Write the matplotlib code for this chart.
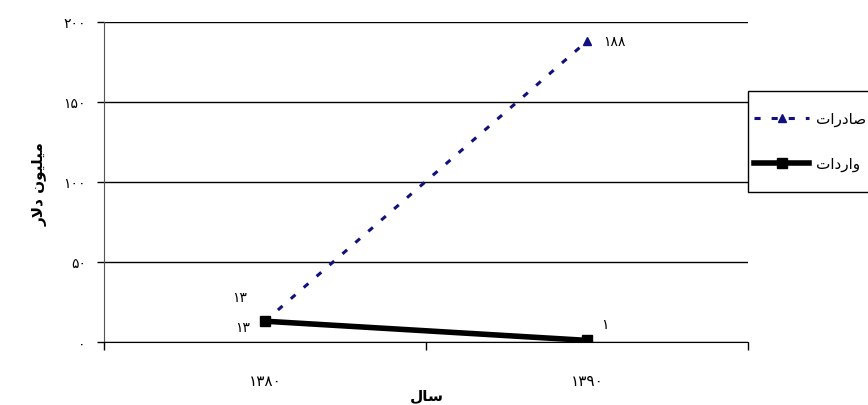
import matplotlib
matplotlib.use("Agg")
import matplotlib.pyplot as plt
from matplotlib.patches import Rectangle

# chart data
years = ["۱۳۸۰", "۱۳۹۰"]
exports = [13, 188]
imports = [13, 1]
export_labels = ["۱۳", "۱۸۸"]
import_labels = ["۱۳", "۱"]
y_ticks = [0, 50, 100, 150, 200]
y_tick_labels = ["۰", "۵۰", "۱۰۰", "۱۵۰", "۲۰۰"]
series_names = ["صادرات", "واردات"]
x_title = "سال"
y_title = "میلیون دلار"

# matplotlib has no arabic shaping, so map letters to presentation forms
# (isolated, final, initial, medial); None = does not join to the next letter
FORMS = {
    "ا": ("\uFE8D", "\uFE8E", None, None),
    "د": ("\uFEA9", "\uFEAA", None, None),
    "ر": ("\uFEAD", "\uFEAE", None, None),
    "و": ("\uFEED", "\uFEEE", None, None),
    "ل": ("\uFEDD", "\uFEDE", "\uFEDF", "\uFEE0"),
    "م": ("\uFEE1", "\uFEE2", "\uFEE3", "\uFEE4"),
    "ن": ("\uFEE5", "\uFEE6", "\uFEE7", "\uFEE8"),
    "س": ("\uFEB1", "\uFEB2", "\uFEB3", "\uFEB4"),
    "ص": ("\uFEB9", "\uFEBA", "\uFEBB", "\uFEBC"),
    "ت": ("\uFE95", "\uFE96", "\uFE97", "\uFE98"),
    "ی": ("\uFBFC", "\uFBFD", "\uFBFE", "\uFBFF"),
}


def shape(text):
    out = []
    i = 0
    while i < len(text):
        ch = text[i]
        if ch not in FORMS:
            out.append(ch)
            i += 1
            continue
        prev = text[i - 1] if i > 0 else ""
        joins_prev = prev in FORMS and FORMS[prev][2] is not None
        if ch == "ل" and i + 1 < len(text) and text[i + 1] == "ا":
            out.append("\uFEFC" if joins_prev else "\uFEFB")
            i += 2
            continue
        nxt = text[i + 1] if i + 1 < len(text) else ""
        joins_next = FORMS[ch][2] is not None and nxt in FORMS
        iso, fin, ini, med = FORMS[ch]
        if joins_prev and joins_next:
            out.append(med)
        elif joins_prev:
            out.append(fin)
        elif joins_next:
            out.append(ini)
        else:
            out.append(iso)
        i += 1
    return "".join(reversed(out))


plt.rcParams["font.family"] = ["DejaVu Sans"]

W, H = 868, 406
fig = plt.figure(figsize=(W / 100, H / 100), dpi=100)
ax = fig.add_axes([104 / W, 1 - 343 / H, 644 / W, 320 / H])

x = [0.5, 1.5]
ax.plot(x, exports, color="#10107f", lw=2.2, ls=(0, (2.0, 3.6)),
        marker="^", ms=6, label=shape(series_names[0]), zorder=3)
ax.plot(x, imports, color="black", lw=4, marker="s", ms=6.5,
        label=shape(series_names[1]), zorder=4)

ax.set_xlim(0, 2)
ax.set_ylim(0, 200)
ax.set_yticks(y_ticks)
ax.set_yticklabels(y_tick_labels, fontsize=10)
ax.set_xticks([0, 1, 2])
ax.set_xticklabels([])
ax.set_xticks(x, minor=True)
ax.set_xticklabels(years, minor=True, fontsize=11)
ax.tick_params(axis="x", which="minor", length=0, pad=22)
ax.tick_params(axis="x", which="major", length=5.5, width=1, direction="out")
ax.tick_params(axis="y", length=5, width=1, direction="out", pad=8)

ax.yaxis.grid(True, color="black", lw=1)
ax.set_axisbelow(True)
for side in ["top", "right"]:
    ax.spines[side].set_visible(False)
ax.spines["left"].set_color("#555555")
ax.spines["bottom"].set_color("black")

# data labels
ax.annotate(export_labels[0], (x[0], exports[0]), xytext=(-25, 24),
            textcoords="offset pixels", ha="center", va="center", fontsize=10)
ax.annotate(export_labels[1], (x[1], exports[1]), xytext=(16, 0),
            textcoords="offset pixels", ha="left", va="center", fontsize=10)
ax.annotate(import_labels[0], (x[0], imports[0]), xytext=(-22, -6),
            textcoords="offset pixels", ha="center", va="center", fontsize=10)
ax.annotate(import_labels[1], (x[1], imports[1]), xytext=(18, 16),
            textcoords="offset pixels", ha="center", va="center", fontsize=10)

fig.text(40 / W, 1 - 184 / H, shape(y_title), rotation=90, ha="center",
         va="center", fontsize=11, fontweight="bold")
fig.text(427 / W, 1 - 388 / H, shape(x_title), ha="center", va="top",
         fontsize=11, fontweight="bold")

# legend box, runs past the right edge of the picture
fig.add_artist(Rectangle((748 / W, 1 - 193 / H), 140 / W, 101 / H,
                         transform=fig.transFigure, facecolor="white",
                         edgecolor="black", lw=1, zorder=4))
handles, labels = ax.get_legend_handles_labels()
leg = fig.legend(handles, labels, loc="upper left",
                 bbox_to_anchor=(748 / W, 1 - 106 / H), borderaxespad=0,
                 numpoints=1, handlelength=3.6, handletextpad=0.45,
                 labelspacing=1.95, borderpad=0.4, frameon=False, fontsize=11)
leg.set_zorder(5)

fig.savefig("out.png", dpi=100)
